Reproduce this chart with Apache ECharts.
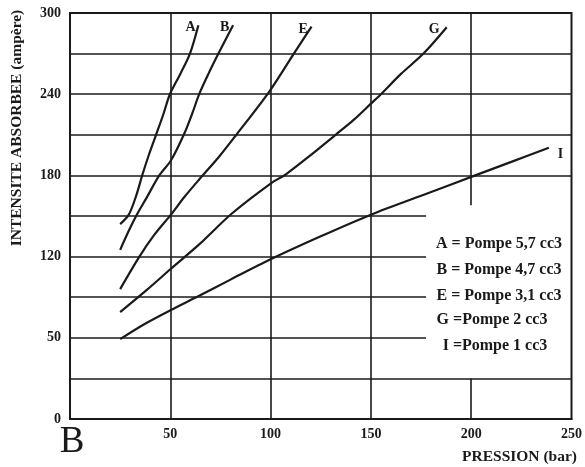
<!DOCTYPE html>
<html>
<head>
<meta charset="utf-8">
<script src="https://cdn.jsdelivr.net/npm/echarts@6/dist/echarts.min.js"></script>
<style>html,body{margin:0;padding:0;background:#fff}#c{width:585px;height:467px}</style>
</head>
<body>
<div id="c"></div>
<script>
// ---- data ----
const xTicks = [0, 50, 100, 150, 200, 250];
const yTickLabels = ['0', '', '50', '', '120', '', '180', '', '240', '', '300']; // labels at 0,30,...,300
const hGridValues = [30, 60, 90, 120, 150, 180, 210, 240, 270];
const vGridValues = [50, 100, 150, 200];

const curveNames = ['A', 'B', 'E', 'G', 'I'];
const curveA = [[25,144],[29.3,151],[33,165],[36.2,181],[39.5,196],[42.9,210],[46.5,225],[49.8,240],[55,255],[59.8,270],[64,291]];
const curveB = [[25,125],[29.6,140],[33.7,152],[38,163],[44.5,180],[50.3,191],[57,211],[61,226],[64.4,240],[69,255],[74,270],[81.3,291]];
const curveE = [[25,96],[34.6,120],[42,136],[50.3,151],[57,164],[64.4,177],[74.4,194],[82.9,210],[98.9,241],[111.6,270],[120.4,290]];
const curveG = [[25,79],[38,95],[50.3,111],[64.4,129],[80.4,151.5],[100,174],[107.8,181],[120,195],[132.4,210],[141.4,221],[150,233],[155,240],[165,255],[176.2,270],[187.8,289.5]];
const curveI = [[25,59],[37,70],[50.3,80.5],[64.4,91],[80,103],[100,118],[125,135],[150,151],[178.7,167],[202,180],[220,190],[238.7,200.5]];
const curves = [curveA, curveB, curveE, curveG, curveI];

const legendLines = ['A = Pompe 5,7 cc3', 'B = Pompe 4,7 cc3', 'E = Pompe 3,1 cc3', 'G =Pompe 2 cc3', 'I =Pompe 1 cc3'];
const yAxisTitle = 'INTENSITE ABSORBEE (ampère)';
const xAxisTitle = 'PRESSION (bar)';
const panelLetter = 'B';

// ---- layout constants ----
const FONT = '"Liberation Serif", "DejaVu Serif", serif';
const INK = '#1a1a1a';
const boxLeft = 177.5;   // legend box left edge (x units)
const boxTop = 158;      // legend box top edge (y units)
const boxBottom = 30;

// grid line segments
const gridSegs = [];
hGridValues.forEach(v => {
  const inBox = v > boxBottom && v < boxTop;
  gridSegs.push({coords: [[0, v], [inBox ? boxLeft : 250, v]]});
});
vGridValues.forEach(v => {
  if (v > boxLeft) {
    gridSegs.push({coords: [[v, boxTop], [v, 300]]});
    gridSegs.push({coords: [[v, 0], [v, boxBottom]]});
  } else {
    gridSegs.push({coords: [[v, 0], [v, 300]]});
  }
});

const labelOffsets = [[-21, 2], [-21, 2], [-21, 3], [-26, 2], [1, 7]];

const chart = echarts.init(document.getElementById('c'), null, {renderer: 'canvas'});
const series = [{
  type: 'lines',
  coordinateSystem: 'cartesian2d',
  polyline: false,
  silent: true,
  z: 1,
  lineStyle: {color: INK, width: 1.6, opacity: 1},
  data: gridSegs
}];
curves.forEach((c, i) => {
  series.push({
    type: 'line',
    name: curveNames[i],
    data: c,
    smooth: 0.3,
    showSymbol: false,
    symbol: 'none',
    z: 3,
    lineStyle: {color: INK, width: 2.2},
    endLabel: {
      show: true,
      formatter: curveNames[i],
      color: INK,
      fontFamily: FONT,
      fontWeight: 'bold',
      fontSize: 14,
      offset: labelOffsets[i]
    }
  });
});

const legendY = [244, 270, 296, 320, 346];
const legendCX = [499, 499, 499, 492, 495];
const graphics = legendLines.map((t, i) => ({
  type: 'text', x: legendCX[i], y: legendY[i],
  style: {text: t, font: 'bold 16px ' + FONT, fill: INK, textAlign: 'center', textVerticalAlign: 'middle'}
}));
graphics.push({
  type: 'text', x: 17, y: 128, rotation: Math.PI / 2,
  style: {text: yAxisTitle, font: 'bold 15.5px ' + FONT, fill: INK, textAlign: 'center', textVerticalAlign: 'middle'}
});
graphics.push({
  type: 'text', x: 577, y: 457,
  style: {text: xAxisTitle, font: 'bold 15.5px ' + FONT, fill: INK, textAlign: 'right', textVerticalAlign: 'middle'}
});
graphics.push({
  type: 'text', x: 72, y: 442,
  style: {text: panelLetter, font: '37px ' + FONT, fill: INK, textAlign: 'center', textVerticalAlign: 'middle'}
});

chart.setOption({
  animation: false,
  backgroundColor: '#fff',
  grid: {left: 70, right: 11, top: 13, bottom: 48, show: true, borderColor: INK, borderWidth: 2, backgroundColor: 'transparent'},
  xAxis: {
    type: 'value', min: xTicks[0], max: xTicks[xTicks.length - 1], interval: xTicks[1] - xTicks[0],
    axisLine: {show: true, lineStyle: {color: INK, width: 2}},
    axisTick: {show: false},
    splitLine: {show: false},
    axisLabel: {
      margin: 8, color: INK, fontFamily: FONT, fontWeight: 'bold', fontSize: 14,
      formatter: v => (v === 0 ? '' : String(v))
    }
  },
  yAxis: {
    type: 'value', min: 0, max: 300, interval: 30,
    axisLine: {show: true, lineStyle: {color: INK, width: 2}},
    axisTick: {show: false},
    splitLine: {show: false},
    axisLabel: {
      margin: 9, color: INK, fontFamily: FONT, fontWeight: 'bold', fontSize: 14,
      formatter: v => yTickLabels[Math.round(v / 30)] || ''
    }
  },
  series: series,
  graphic: graphics
});
</script>
</body>
</html>
